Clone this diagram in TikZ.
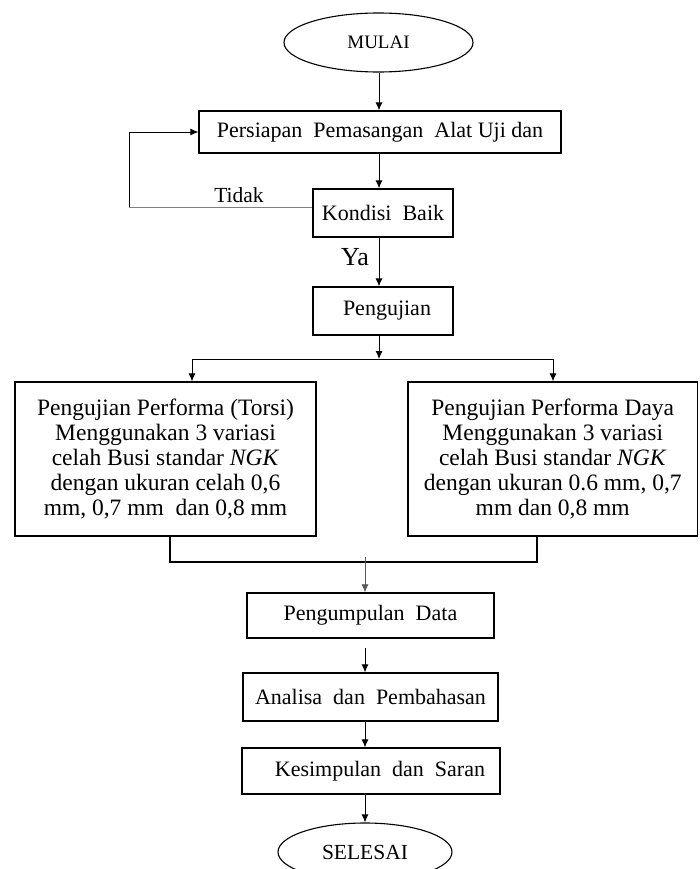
\documentclass[tikz,border=0pt]{standalone}
\usepackage{fontspec}
\setmainfont{Liberation Serif}
\usetikzlibrary{arrows.meta}
\usetikzlibrary{shapes.geometric}
\usetikzlibrary{positioning}
\tikzset{arr/.style = {-{Latex[length=8pt,width=7pt]}, line width=0.9pt},
         kotak/.style = {draw, rectangle, line width=1.3pt, inner sep=0pt,
                         font=\fontsize{22}{25}\selectfont},
         besar/.style = {kotak, align=center, font=\fontsize{23.5}{25}\selectfont},
         oval/.style = {draw, ellipse, line width=1.1pt, inner sep=0pt}}

\begin{document}
\begin{tikzpicture}[x=1pt, y=-1pt]
      \useasboundingbox (0, 0) rectangle (699, 869);

      \node [oval, minimum width=189pt, minimum height=59pt, font=\fontsize{19}{21}\selectfont]
        (mulai) at (378.5, 42.5) {MULAI};
      \node [kotak, minimum width=362pt, minimum height=42pt] (persiapan) at (380, 132)
        {Persiapan\ \ Pemasangan\ \ Alat Uji dan};
      \node [kotak, minimum width=140pt, minimum height=48pt] (kondisi) at (383, 213)
        {Kondisi\ \ Baik};
      \node [kotak, minimum width=140pt, minimum height=48pt] (pengujian) at (383, 311)
        {\hspace{8pt}Pengujian};

      \node [besar, minimum width=301pt, minimum height=154pt] (torsi) at (165.5, 459)
        {Pengujian Performa (Torsi)\\ Menggunakan 3 variasi\\ celah Busi standar \textit{NGK}\\
         dengan ukuran celah 0,6\\ mm, 0,7 mm\ \ dan 0,8 mm};
      \node [besar, minimum width=289.5pt, minimum height=154pt] (daya) at (552.75, 459)
        {Pengujian Performa Daya\\ Menggunakan 3 variasi\\ celah Busi standar \textit{NGK}\\
         dengan ukuran 0.6 mm, 0,7\\ mm dan 0,8 mm};

      \node [kotak, minimum width=247pt, minimum height=45pt] (data) at (370.5, 615.5)
        {Pengumpulan\ \ Data};
      \node [kotak, minimum width=255pt, minimum height=48pt] (analisa) at (370.5, 697)
        {Analisa\ \ dan\ \ Pembahasan};
      \node [kotak, minimum width=258pt, minimum height=46pt] (kesimpulan) at (371, 771)
        {\hspace{18pt}Kesimpulan\ \ dan\ \ Saran};
      \node [oval, minimum width=174pt, minimum height=58pt, font=\fontsize{21.5}{23}\selectfont]
        (selesai) at (365, 852) {SELESAI};

      % titik bantu
      \coordinate (balik) at (129, 207);
      \coordinate (cabang) at (379, 359);
      \coordinate (cabangL) at (192, 359);
      \coordinate (cabangR) at (553, 359);
      \coordinate (gabungL) at (170, 562);
      \coordinate (gabungR) at (537, 562);
      \coordinate (gabungC) at (365, 557);

      \draw [arr] (mulai.south -| cabang) -- (persiapan.north -| cabang);
      \draw [arr] (persiapan.south -| cabang) -- (kondisi.north -| cabang);

      \draw [gray, line width=1pt] (kondisi.west |- balik) -- (balik);
      \draw [arr] (balik) |- (persiapan.west);
      \node [font=\fontsize{21.5}{23}\selectfont] (tidak) at (239, 195) {Tidak};

      \draw [arr] (kondisi.south -| cabang) -- (pengujian.north -| cabang);
      \node [font=\fontsize{26}{28}\selectfont] (ya) at (355, 257) {Ya};

      \draw [arr] (pengujian.south -| cabang) -- (cabang);
      \draw [line width=0.9pt] (cabangL) -- (cabangR);
      \draw [arr] (cabangL) -- (torsi.north -| cabangL);
      \draw [arr] (cabangR) -- (daya.north -| cabangR);

      \draw [line width=1.1pt] (torsi.south -| gabungL) -- (gabungL) -- (gabungR) -- (daya.south -| gabungR);
      \draw [arr, gray!70!black, line width=0.7pt] (gabungC) -- (data.north -| gabungC);

      \draw [arr, shorten <=9pt] (data.south -| gabungC) -- (analisa.north -| gabungC);
      \draw [arr] (analisa.south -| gabungC) -- (kesimpulan.north -| gabungC);
      \draw [arr] (kesimpulan.south -| gabungC) -- (selesai.north -| gabungC);
    \end{tikzpicture}
\end{document}
